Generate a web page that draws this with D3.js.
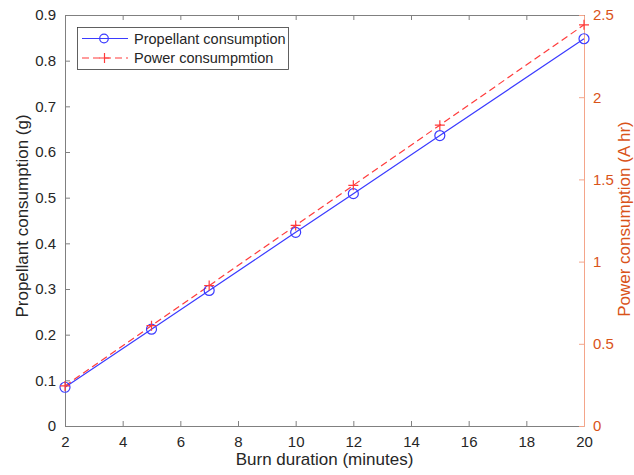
<!DOCTYPE html>
<html><head><meta charset="utf-8">
<script src="https://cdn.jsdelivr.net/npm/d3@7"></script>
<style>body{margin:0;background:#fff}svg{display:block}text{font-family:"Liberation Sans",Arial,sans-serif}</style>
</head><body><svg id="c" width="634" height="475"></svg>
<script>
const durations = [2, 5, 7, 10, 12, 15, 20];
const propellant = [0.0848, 0.212, 0.2968, 0.424, 0.5088, 0.636, 0.848];
const power = [0.244, 0.61, 0.854, 1.22, 1.464, 1.83, 2.44];
const xTicks = [2, 4, 6, 8, 10, 12, 14, 16, 18, 20];
const yLeftTicks = [0, 0.1, 0.2, 0.3, 0.4, 0.5, 0.6, 0.7, 0.8, 0.9];
const yRightTicks = [0, 0.5, 1, 1.5, 2, 2.5];
const seriesNames = ["Propellant consumption", "Power consumpmtion"];

const L = 65, R = 584, T = 15, B = 426;
const svg = d3.select("#c");
const x = d3.scaleLinear().domain([2, 20]).range([L, R]);
const yL = d3.scaleLinear().domain([0, 0.9]).range([B, T]);
const yR = d3.scaleLinear().domain([0, 2.5]).range([B, T]);
const gray = "#262626", axGray = "#808080", orange = "#D95319";
const blue = "#3b3bff", red = "#ff3b3b";

const gx = svg.append("g").attr("transform", `translate(0,${B})`)
  .call(d3.axisBottom(x).tickValues(xTicks).tickSizeInner(-5).tickSizeOuter(0).tickPadding(10).tickFormat(d3.format("d")));
const gt = svg.append("g").attr("transform", `translate(0,${T})`)
  .call(d3.axisTop(x).tickValues(xTicks).tickSizeInner(-5).tickSizeOuter(0).tickFormat(""));
const gl = svg.append("g").attr("transform", `translate(${L},0)`)
  .call(d3.axisLeft(yL).tickValues(yLeftTicks).tickSizeInner(-5).tickSizeOuter(0).tickPadding(9).tickFormat(d => d === 0 ? "0" : d3.format(".1f")(d)));
const gr = svg.append("g").attr("transform", `translate(${R},0)`)
  .call(d3.axisRight(yR).tickValues(yRightTicks).tickSizeInner(-5).tickSizeOuter(0).tickPadding(9).tickFormat(d => String(d)));

[gx, gt, gl].forEach(g => {
  g.selectAll("path,line").attr("stroke", axGray);
  g.selectAll("text").attr("fill", gray).style("font-size", "15px");
});
gr.selectAll("path,line").attr("stroke", "#f4a58a");
gr.selectAll("text").attr("fill", orange).style("font-size", "15px");

svg.append("text").attr("x", (L + R) / 2).attr("y", 465).attr("text-anchor", "middle")
  .attr("fill", gray).style("font-size", "17px").text("Burn duration (minutes)");
svg.append("text").attr("transform", `translate(28,216) rotate(-90)`).attr("text-anchor", "middle")
  .attr("fill", gray).style("font-size", "17px").text("Propellant consumption (g)");
svg.append("text").attr("transform", `translate(629.5,219) rotate(-90)`).attr("text-anchor", "middle")
  .attr("fill", orange).style("font-size", "17px").text("Power consumption (A hr)");

const pData = durations.map((d, i) => [d, propellant[i]]);
const wData = durations.map((d, i) => [d, power[i]]);
svg.append("path").datum(pData).attr("fill", "none").attr("stroke", blue).attr("stroke-width", 1.2)
  .attr("d", d3.line().x(d => x(d[0])).y(d => yL(d[1])));
svg.append("path").datum(wData).attr("fill", "none").attr("stroke", red).attr("stroke-width", 1.2)
  .attr("stroke-dasharray", "7,4")
  .attr("d", d3.line().x(d => x(d[0])).y(d => yR(d[1])));
svg.selectAll(".pm").data(pData).join("circle").attr("cx", d => x(d[0])).attr("cy", d => yL(d[1]))
  .attr("r", 5).attr("fill", "none").attr("stroke", blue).attr("stroke-width", 1.2);
svg.selectAll(".wm").data(wData).join("path")
  .attr("d", d => { const cx = x(d[0]), cy = yR(d[1]); return `M${cx-5},${cy}H${cx+5}M${cx},${cy-5}V${cy+5}`; })
  .attr("stroke", red).attr("stroke-width", 1.2).attr("fill", "none");

const lg = svg.append("g");
lg.append("rect").attr("x", 77.5).attr("y", 27.5).attr("width", 211).attr("height", 42)
  .attr("fill", "#fff").attr("stroke", "#3a3a3a").attr("stroke-width", 0.8);
const ly = [38.5, 58];
lg.append("line").attr("x1", 82).attr("x2", 128).attr("y1", ly[0]).attr("y2", ly[0]).attr("stroke", blue).attr("stroke-width", 1.2);
lg.append("circle").attr("cx", 104).attr("cy", ly[0]).attr("r", 4.3).attr("fill", "none").attr("stroke", blue).attr("stroke-width", 1.2);
lg.append("line").attr("x1", 82).attr("x2", 128).attr("y1", ly[1]).attr("y2", ly[1]).attr("stroke", red).attr("stroke-width", 1.2).attr("stroke-dasharray", "7,4");
lg.append("path").attr("d", `M99.5,${ly[1]}H109.5M104.5,${ly[1]-5}V${ly[1]+5}`).attr("stroke", red).attr("stroke-width", 1.2);
seriesNames.forEach((n, i) => lg.append("text").attr("x", 134).attr("y", ly[i] + 5)
  .attr("fill", gray).style("font-size", "14.5px").text(n));
</script></body></html>
